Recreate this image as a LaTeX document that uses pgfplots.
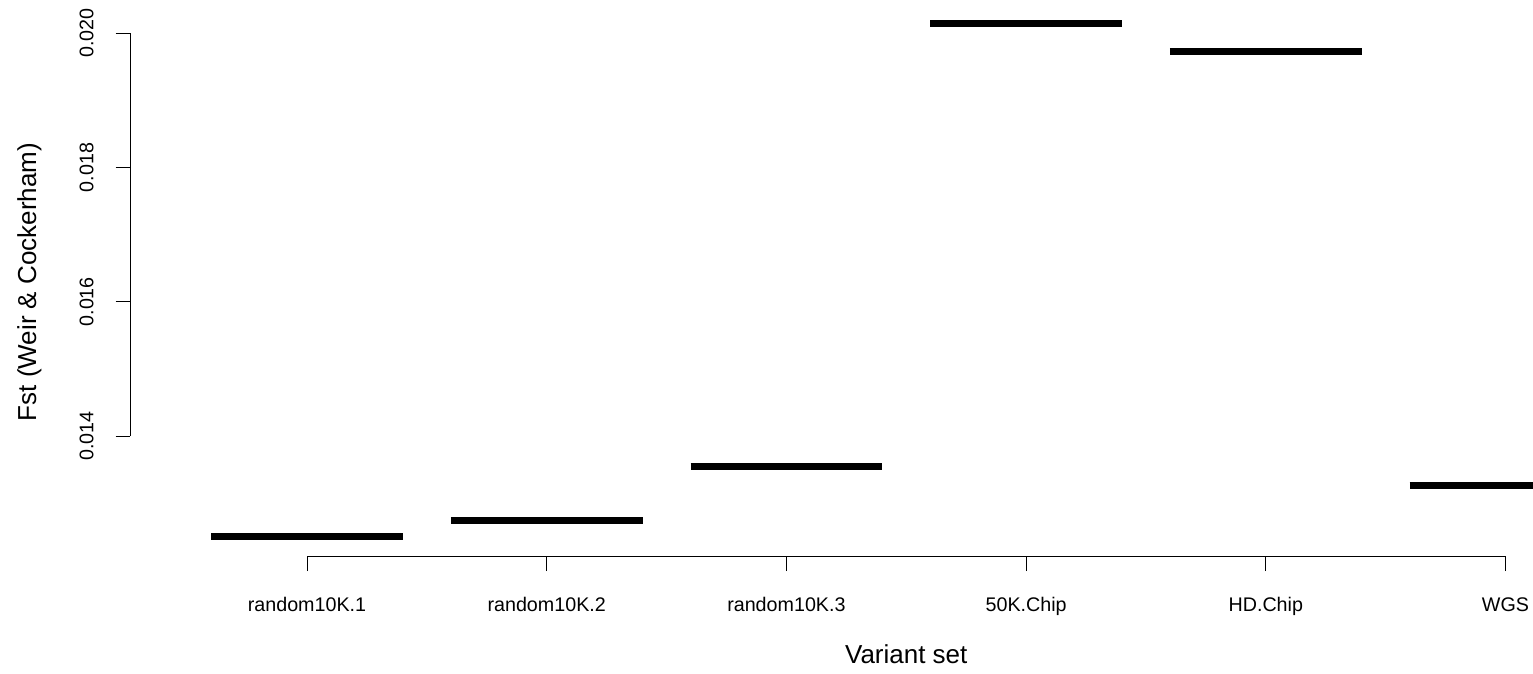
\documentclass[border=0pt]{standalone}
\usepackage{pgfplots}
\usepackage{pgfplotstable}
\pgfplotsset{compat=1.18}
\usepackage{fontspec}
\setmainfont{Liberation Sans}
\pgfplotstableread{
x y
0 0.01250
1 0.01274
2 0.01355
3 0.02015
4 0.01973
5 0.01326
}\medians
\begin{document}
\begin{tikzpicture}
\begin{axis}[
  at={(130pt,116.5pt)}, anchor=south west,
  scale only axis, width=1403pt, height=556.5pt,
  xmin=-0.73843, xmax=5.11473,
  ymin=0.0122046, ymax=0.0204961,
  clip=false,
  axis lines=left,
  axis line style={draw=none},
  xtick={0,1,2,3,4,5},
  xticklabels={random10K.1,random10K.2,random10K.3,50K.Chip,HD.Chip,WGS},
  ytick={0.014,0.016,0.018,0.020},
  yticklabels={0.014,0.016,0.018,0.020},
  scaled y ticks=false,
  /pgf/number format/assume math mode=true,
  tick align=outside,
  major tick length=14.5pt,
  tick style={black, line width=0.9pt},
  xticklabel style={font=\fontsize{19.7}{24}\selectfont, anchor=base, inner sep=0pt, yshift=-40pt},
  yticklabel style={font=\fontsize{19.7}{24}\selectfont, rotate=90, anchor=base, inner sep=0pt, yshift=22.2pt},
  xlabel={Variant set},
  xlabel style={font=\fontsize{26}{30}\selectfont, at={(axis cs:2.5,0.0106178)}, anchor=base, inner sep=0pt},
  ylabel={Fst (Weir \& Cockerham)},
  ylabel style={font=\fontsize{26}{30}\selectfont, at={(axis cs:-1.13058,0.0162945)}, rotate=0, anchor=base, inner sep=0pt},
]
\draw[black, line width=0.9pt] (axis cs:-0.73843,0.014) -- (axis cs:-0.73843,0.020);
\draw[black, line width=0.9pt] (axis cs:0,0.0122046) -- (axis cs:5,0.0122046);
\foreach \i in {0,...,5}{
  \pgfplotstablegetelem{\i}{y}\of\medians
  \edef\temp{\noexpand\addplot[black, line width=6.7pt, line cap=butt, mark=none] coordinates {(\i-0.4,\pgfplotsretval) (\i+0.4,\pgfplotsretval)};}
  \temp
}
\end{axis}
\pgfresetboundingbox
\path[use as bounding box] (0,0) rectangle (1533pt,673pt);
\end{tikzpicture}
\end{document}
